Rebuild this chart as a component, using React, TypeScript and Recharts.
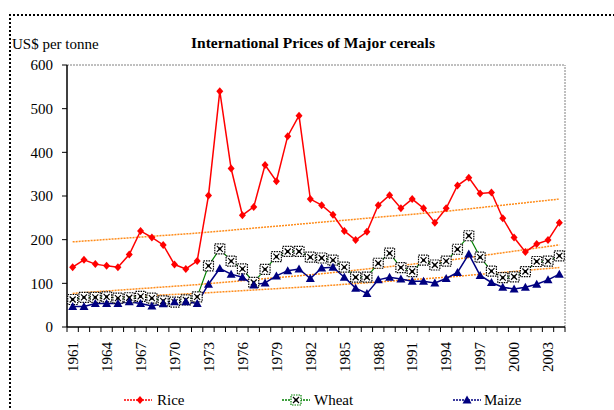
import { LineChart, Line, XAxis, YAxis, ReferenceLine } from "recharts"

const years = [
  1961, 1962, 1963, 1964, 1965, 1966, 1967, 1968, 1969, 1970,
  1971, 1972, 1973, 1974, 1975, 1976, 1977, 1978, 1979, 1980,
  1981, 1982, 1983, 1984, 1985, 1986, 1987, 1988, 1989, 1990,
  1991, 1992, 1993, 1994, 1995, 1996, 1997, 1998, 1999, 2000,
  2001, 2002, 2003, 2004,
]

const rice = [
  137, 154, 144, 140, 137, 166, 220, 205, 188, 143,
  133, 151, 301, 540, 363, 256, 275, 371, 334, 437,
  484, 293, 279, 257, 220, 199, 218, 279, 302, 272,
  293, 272, 239, 272, 324, 342, 306, 308, 249, 205,
  172, 190, 199, 239,
]

const wheat = [
  63, 68, 68, 69, 66, 67, 70, 66, 60, 57,
  62, 69, 140, 179, 151, 133, 102, 132, 161, 173,
  173, 160, 158, 153, 137, 114, 114, 146, 169, 136,
  127, 153, 142, 151, 178, 209, 160, 128, 113, 115,
  127, 150, 151, 163,
]

const maize = [
  47, 47, 54, 54, 54, 58, 54, 48, 53, 58,
  58, 54, 98, 134, 121, 114, 96, 101, 117, 129,
  133, 111, 135, 137, 114, 89, 77, 108, 114, 110,
  105, 105, 101, 111, 125, 167, 118, 102, 91, 87,
  91, 98, 108, 121,
]

// trend lines, read at a few years
const trendYears = [1961, 1972, 1983, 1994, 2004]
const riceTrend = [195, 215, 240, 265, 293]
const wheatTrend = [77, 97, 122, 152, 188]
const maizeTrend = [64, 77, 94, 114, 136]

const labelYears = [1961, 1964, 1967, 1970, 1973, 1976, 1979, 1982, 1985, 1988, 1991, 1994, 1997, 2000, 2003]
const yTicks = [0, 100, 200, 300, 400, 500, 600]

const data = years.map((year, i) => {
  const t = trendYears.indexOf(year)
  return {
    year,
    rice: rice[i],
    wheat: wheat[i],
    maize: maize[i],
    riceTrend: t >= 0 ? riceTrend[t] : null,
    wheatTrend: t >= 0 ? wheatTrend[t] : null,
    maizeTrend: t >= 0 ? maizeTrend[t] : null,
  }
})

const boundaries = [...years.map((y) => y - 0.5), years[years.length - 1] + 0.5]

const W = 614
const H = 410
const PLOT_LEFT = 67
const PLOT_RIGHT = 565
const PLOT_TOP = 65
const PLOT_BOTTOM = 327
const STEP = (PLOT_RIGHT - PLOT_LEFT) / years.length
const FONT = "'Liberation Serif', 'Times New Roman', serif"
const ORANGE = "#FF8C1A"

function YearTick(props: any) {
  const { x, payload } = props
  const year = payload.value + 0.5
  if (!labelYears.includes(year)) return <g />
  const cx = x + STEP / 2
  const cy = PLOT_BOTTOM + 15
  return (
    <text
      x={cx}
      y={cy}
      transform={`rotate(-90 ${cx} ${cy})`}
      textAnchor="end"
      dy="0.35em"
      fontSize={15}
      fontFamily={FONT}
      fill="#000"
    >
      {year}
    </text>
  )
}

function Diamond({ cx, cy, fill }: { cx: number; cy: number; fill: string }) {
  return <path d={`M${cx},${cy - 4}L${cx + 3.5},${cy}L${cx},${cy + 4}L${cx - 3.5},${cy}Z`} fill={fill} />
}

function CrossSquare({ cx, cy, stroke }: { cx: number; cy: number; stroke: string }) {
  return (
    <g>
      <rect x={cx - 5} y={cy - 5} width={10} height={10} fill="#fff" stroke={stroke} strokeWidth={1.2} strokeDasharray="1.5 1" />
      <path d={`M${cx - 3},${cy - 3}L${cx + 3},${cy + 3}M${cx + 3},${cy - 3}L${cx - 3},${cy + 3}`} stroke="#000" strokeWidth={1.2} />
      <circle cx={cx} cy={cy} r={1.5} fill="#000" />
    </g>
  )
}

function Triangle({ cx, cy, fill }: { cx: number; cy: number; fill: string }) {
  return <path d={`M${cx},${cy - 4.5}L${cx + 4.5},${cy + 3.5}L${cx - 4.5},${cy + 3.5}Z`} fill={fill} />
}

function Overlay() {
  return (
    <svg width={W} height={H} style={{ position: "absolute", left: 0, top: 0, pointerEvents: "none" }}>
      <text x={12} y={49} fontSize={15} fontFamily={FONT} fill="#000">US$ per tonne</text>
      <text x={313} y={48} fontSize={15.5} fontWeight="bold" fontFamily={FONT} fill="#000" textAnchor="middle">
        International Prices of Major cereals
      </text>
      <g fontSize={15} fontFamily={FONT} fill="#000">
        <line x1={124} x2={152} y1={400} y2={400} stroke="#FF0000" strokeWidth={1.5} strokeDasharray="2 1" />
        <Diamond cx={140} cy={400} fill="#FF0000" />
        <text x={157} y={405}>Rice</text>
        <line x1={282} x2={310} y1={400} y2={400} stroke="#008000" strokeWidth={1.5} strokeDasharray="2 1" />
        <CrossSquare cx={296} cy={400} stroke="#008000" />
        <text x={314} y={405}>Wheat</text>
        <line x1={453} x2={481} y1={400} y2={400} stroke="#000080" strokeWidth={1.5} strokeDasharray="2 1" />
        <Triangle cx={467} cy={400} fill="#000080" />
        <text x={484} y={405}>Maize</text>
      </g>
    </svg>
  )
}

export default function App() {
  return (
    <div style={{ position: "absolute", left: 0, top: 0, width: W, height: H, overflow: "hidden", background: "#fff" }}>
      <div
        style={{
          position: "absolute",
          left: 9,
          top: 14,
          width: W + 40,
          height: H + 40,
          border: "2px dotted #000",
          boxSizing: "border-box",
        }}
      />
      <div style={{ position: "absolute", left: 0, top: 0 }}>
        <LineChart
          width={W}
          height={H}
          data={data}
          margin={{ top: PLOT_TOP, right: W - PLOT_RIGHT, left: PLOT_LEFT - 60, bottom: 0 }}
        >
          <XAxis
            dataKey="year"
            type="number"
            domain={[boundaries[0], boundaries[boundaries.length - 1]]}
            ticks={boundaries}
            interval={0}
            height={H - PLOT_BOTTOM}
            tickSize={5}
            tick={<YearTick />}
            tickLine={{ stroke: "#000" }}
            axisLine={{ stroke: "#000", strokeWidth: 1.5 }}
          />
          <YAxis
            width={60}
            domain={[0, 600]}
            ticks={yTicks}
            interval={0}
            tickSize={5}
            tickMargin={9}
            tick={{ fontSize: 15, fontFamily: FONT, fill: "#000" }}
            tickLine={{ stroke: "#000" }}
            axisLine={{ stroke: "#000", strokeWidth: 1.5 }}
          />
          <ReferenceLine y={600} stroke="#808080" strokeDasharray="2 1" />
          <ReferenceLine x={boundaries[boundaries.length - 1]} stroke="#808080" strokeDasharray="2 1" />
          <Line dataKey="riceTrend" stroke={ORANGE} strokeWidth={1.5} strokeDasharray="2 1" dot={false} connectNulls isAnimationActive={false} />
          <Line dataKey="wheatTrend" stroke={ORANGE} strokeWidth={1.5} strokeDasharray="2 1" dot={false} connectNulls isAnimationActive={false} />
          <Line dataKey="maizeTrend" stroke={ORANGE} strokeWidth={1.5} strokeDasharray="2 1" dot={false} connectNulls isAnimationActive={false} />
          <Line
            dataKey="rice"
            stroke="#FF0000"
            strokeWidth={1.5}
            isAnimationActive={false}
            dot={(p: any) => <Diamond key={`r${p.index}`} cx={p.cx} cy={p.cy} fill="#FF0000" />}
          />
          <Line
            dataKey="wheat"
            stroke="#008000"
            strokeWidth={1.2}
            isAnimationActive={false}
            dot={(p: any) => <CrossSquare key={`w${p.index}`} cx={p.cx} cy={p.cy} stroke="#000" />}
          />
          <Line
            dataKey="maize"
            stroke="#000080"
            strokeWidth={1.5}
            isAnimationActive={false}
            dot={(p: any) => <Triangle key={`m${p.index}`} cx={p.cx} cy={p.cy} fill="#000080" />}
          />
        </LineChart>
      </div>
      <Overlay />
    </div>
  )
}
